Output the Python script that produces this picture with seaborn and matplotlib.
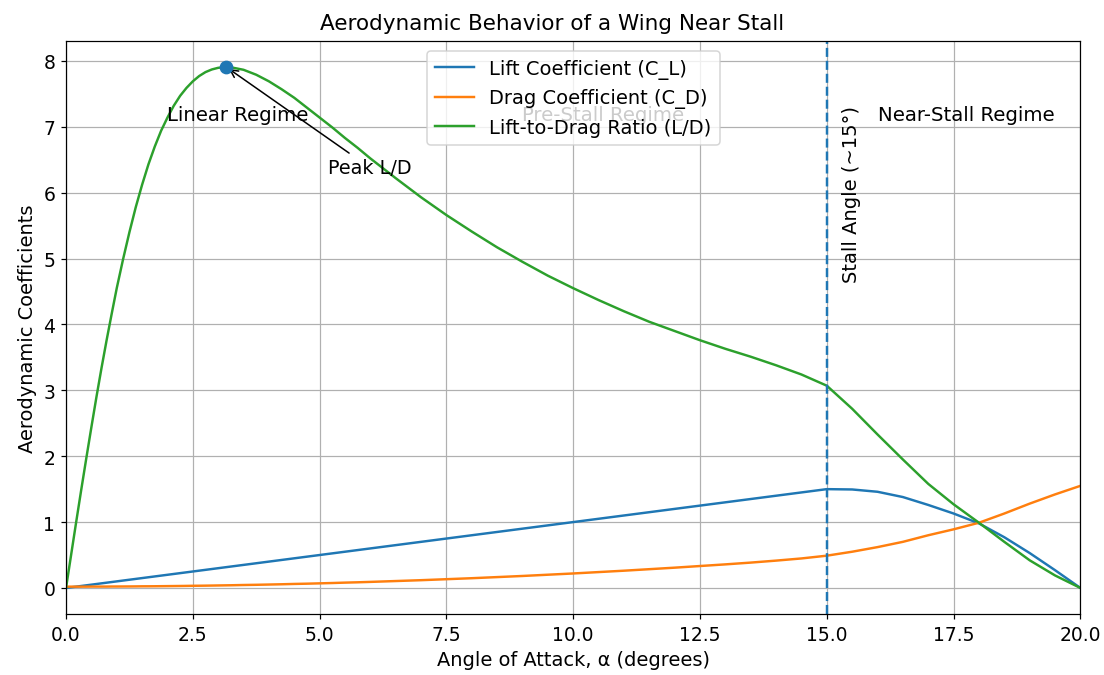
import matplotlib
matplotlib.use("Agg")
import matplotlib.pyplot as plt
import seaborn as sns
import pandas as pd

# angle of attack (deg) and values
alpha = [0.0, 0.1, 0.2, 0.3, 0.4, 0.5, 0.6, 0.7, 0.8, 0.9, 1.0, 1.125, 1.25, 1.375, 1.5, 1.625, 1.75, 1.875,
         2.0, 2.125, 2.25, 2.375, 2.5, 2.625, 2.75, 2.875,
         3.0, 3.16, 3.25, 3.5, 3.75, 4.0, 4.25, 4.5, 4.75, 5.0, 5.25, 5.5, 5.75, 6.0, 6.5, 7.0, 7.5,
         8.0, 8.5, 9.0, 9.5, 10.0, 10.5, 11.0, 11.5, 12.0, 12.5, 13.0, 13.5, 14.0, 14.5, 15.0,
         15.5, 16.0, 16.5, 17.0, 17.5, 18.0, 18.5, 19.0, 19.5, 20.0]

c_l = [0.0, 0.01, 0.02, 0.03, 0.04, 0.05, 0.06, 0.07, 0.08, 0.09, 0.10, 0.1125, 0.125, 0.1375, 0.15, 0.1625, 0.175, 0.1875,
       0.20, 0.2125, 0.225, 0.2375, 0.25, 0.2625, 0.275, 0.2875,
       0.30, 0.316, 0.325, 0.35, 0.375, 0.40, 0.425, 0.45, 0.475, 0.50, 0.525, 0.55, 0.575, 0.60, 0.65, 0.70, 0.75,
       0.80, 0.85, 0.90, 0.95, 1.00, 1.05, 1.10, 1.15, 1.20, 1.25, 1.30, 1.35, 1.40, 1.45, 1.50,
       1.495, 1.46, 1.38, 1.26, 1.13, 0.98, 0.77, 0.53, 0.27, 0.0]

c_d = [0.020, 0.020, 0.020, 0.020, 0.020, 0.021, 0.021, 0.021, 0.021, 0.022, 0.022, 0.0225, 0.023, 0.0238, 0.025, 0.0253,
       0.026, 0.0270, 0.028, 0.0290, 0.030, 0.0313, 0.033, 0.0338, 0.035, 0.0365,
       0.038, 0.040, 0.041, 0.045, 0.048, 0.052, 0.056, 0.061, 0.065, 0.070, 0.075, 0.081, 0.086, 0.092,
       0.105, 0.118, 0.133, 0.148, 0.165, 0.182, 0.201, 0.220, 0.241, 0.262, 0.285, 0.308, 0.333, 0.358, 0.385,
       0.415, 0.448, 0.49, 0.55, 0.62, 0.70, 0.80, 0.89, 0.99, 1.13, 1.28, 1.42, 1.55]

l_d = [0.0, 0.50, 1.00, 1.49, 1.97, 2.44, 2.90, 3.34, 3.76, 4.16, 4.55, 4.99, 5.40, 5.78, 6.12, 6.43, 6.70, 6.94,
       7.14, 7.32, 7.47, 7.59, 7.69, 7.77, 7.83, 7.87,
       7.895, 7.906, 7.903, 7.865, 7.79, 7.69, 7.57, 7.44, 7.29, 7.14, 6.99, 6.83, 6.68, 6.52, 6.22, 5.93, 5.66,
       5.41, 5.17, 4.95, 4.74, 4.55, 4.37, 4.20, 4.04, 3.90, 3.76, 3.63, 3.51, 3.38, 3.24, 3.07,
       2.72, 2.33, 1.95, 1.58, 1.27, 0.99, 0.70, 0.42, 0.19, 0.0]

series_names = ["Lift Coefficient (C_L)", "Drag Coefficient (C_D)", "Lift-to-Drag Ratio (L/D)"]
stall_angle = 15
peak_alpha = 3.16
peak_ld = 7.906

df = pd.DataFrame({"alpha": alpha, series_names[0]: c_l, series_names[1]: c_d, series_names[2]: l_d})
long_df = df.melt(id_vars="alpha", var_name="series", value_name="value")

fig, ax = plt.subplots(figsize=(10.04, 6.145), dpi=110)

sns.lineplot(data=long_df, x="alpha", y="value", hue="series", hue_order=series_names,
             palette=["C0", "C1", "C2"], ax=ax, linewidth=1.6)

# stall line
ax.axvline(stall_angle, color="C0", linestyle="--", linewidth=1.6)
ax.text(15.3, 4.65, "Stall Angle (~15°)", rotation=90, fontsize=12.8, ha="left", va="bottom")

# peak L/D
ax.scatter([peak_alpha], [peak_ld], color="C0", s=64, zorder=5)
ax.annotate("Peak L/D", xy=(peak_alpha, peak_ld), xytext=(5.16, 6.3), fontsize=12.6,
            arrowprops=dict(arrowstyle="->", color="black"))

# regime labels
ax.text(2, 7.1, "Linear Regime", fontsize=12.9)
ax.text(9, 7.1, "Pre-Stall Regime", fontsize=12.9)
ax.text(16, 7.1, "Near-Stall Regime", fontsize=12.9)

ax.set_xlim(0, 20)
fig.text(0.5, 1 - 30 / 676, "Aerodynamic Behavior of a Wing Near Stall", fontsize=14.1,
         ha="center", va="baseline")
ax.set_xlabel("Angle of Attack, α (degrees)", fontsize=12.7)
ax.set_ylabel("Aerodynamic Coefficients", fontsize=12.7)
ax.tick_params(labelsize=12.3)
ax.grid(True)
ax.legend(loc="upper center", fontsize=12.8)

fig.subplots_adjust(left=66 / 1104, right=1080 / 1104, top=1 - 42 / 676, bottom=1 - 615 / 676)
fig.savefig("out.png")
